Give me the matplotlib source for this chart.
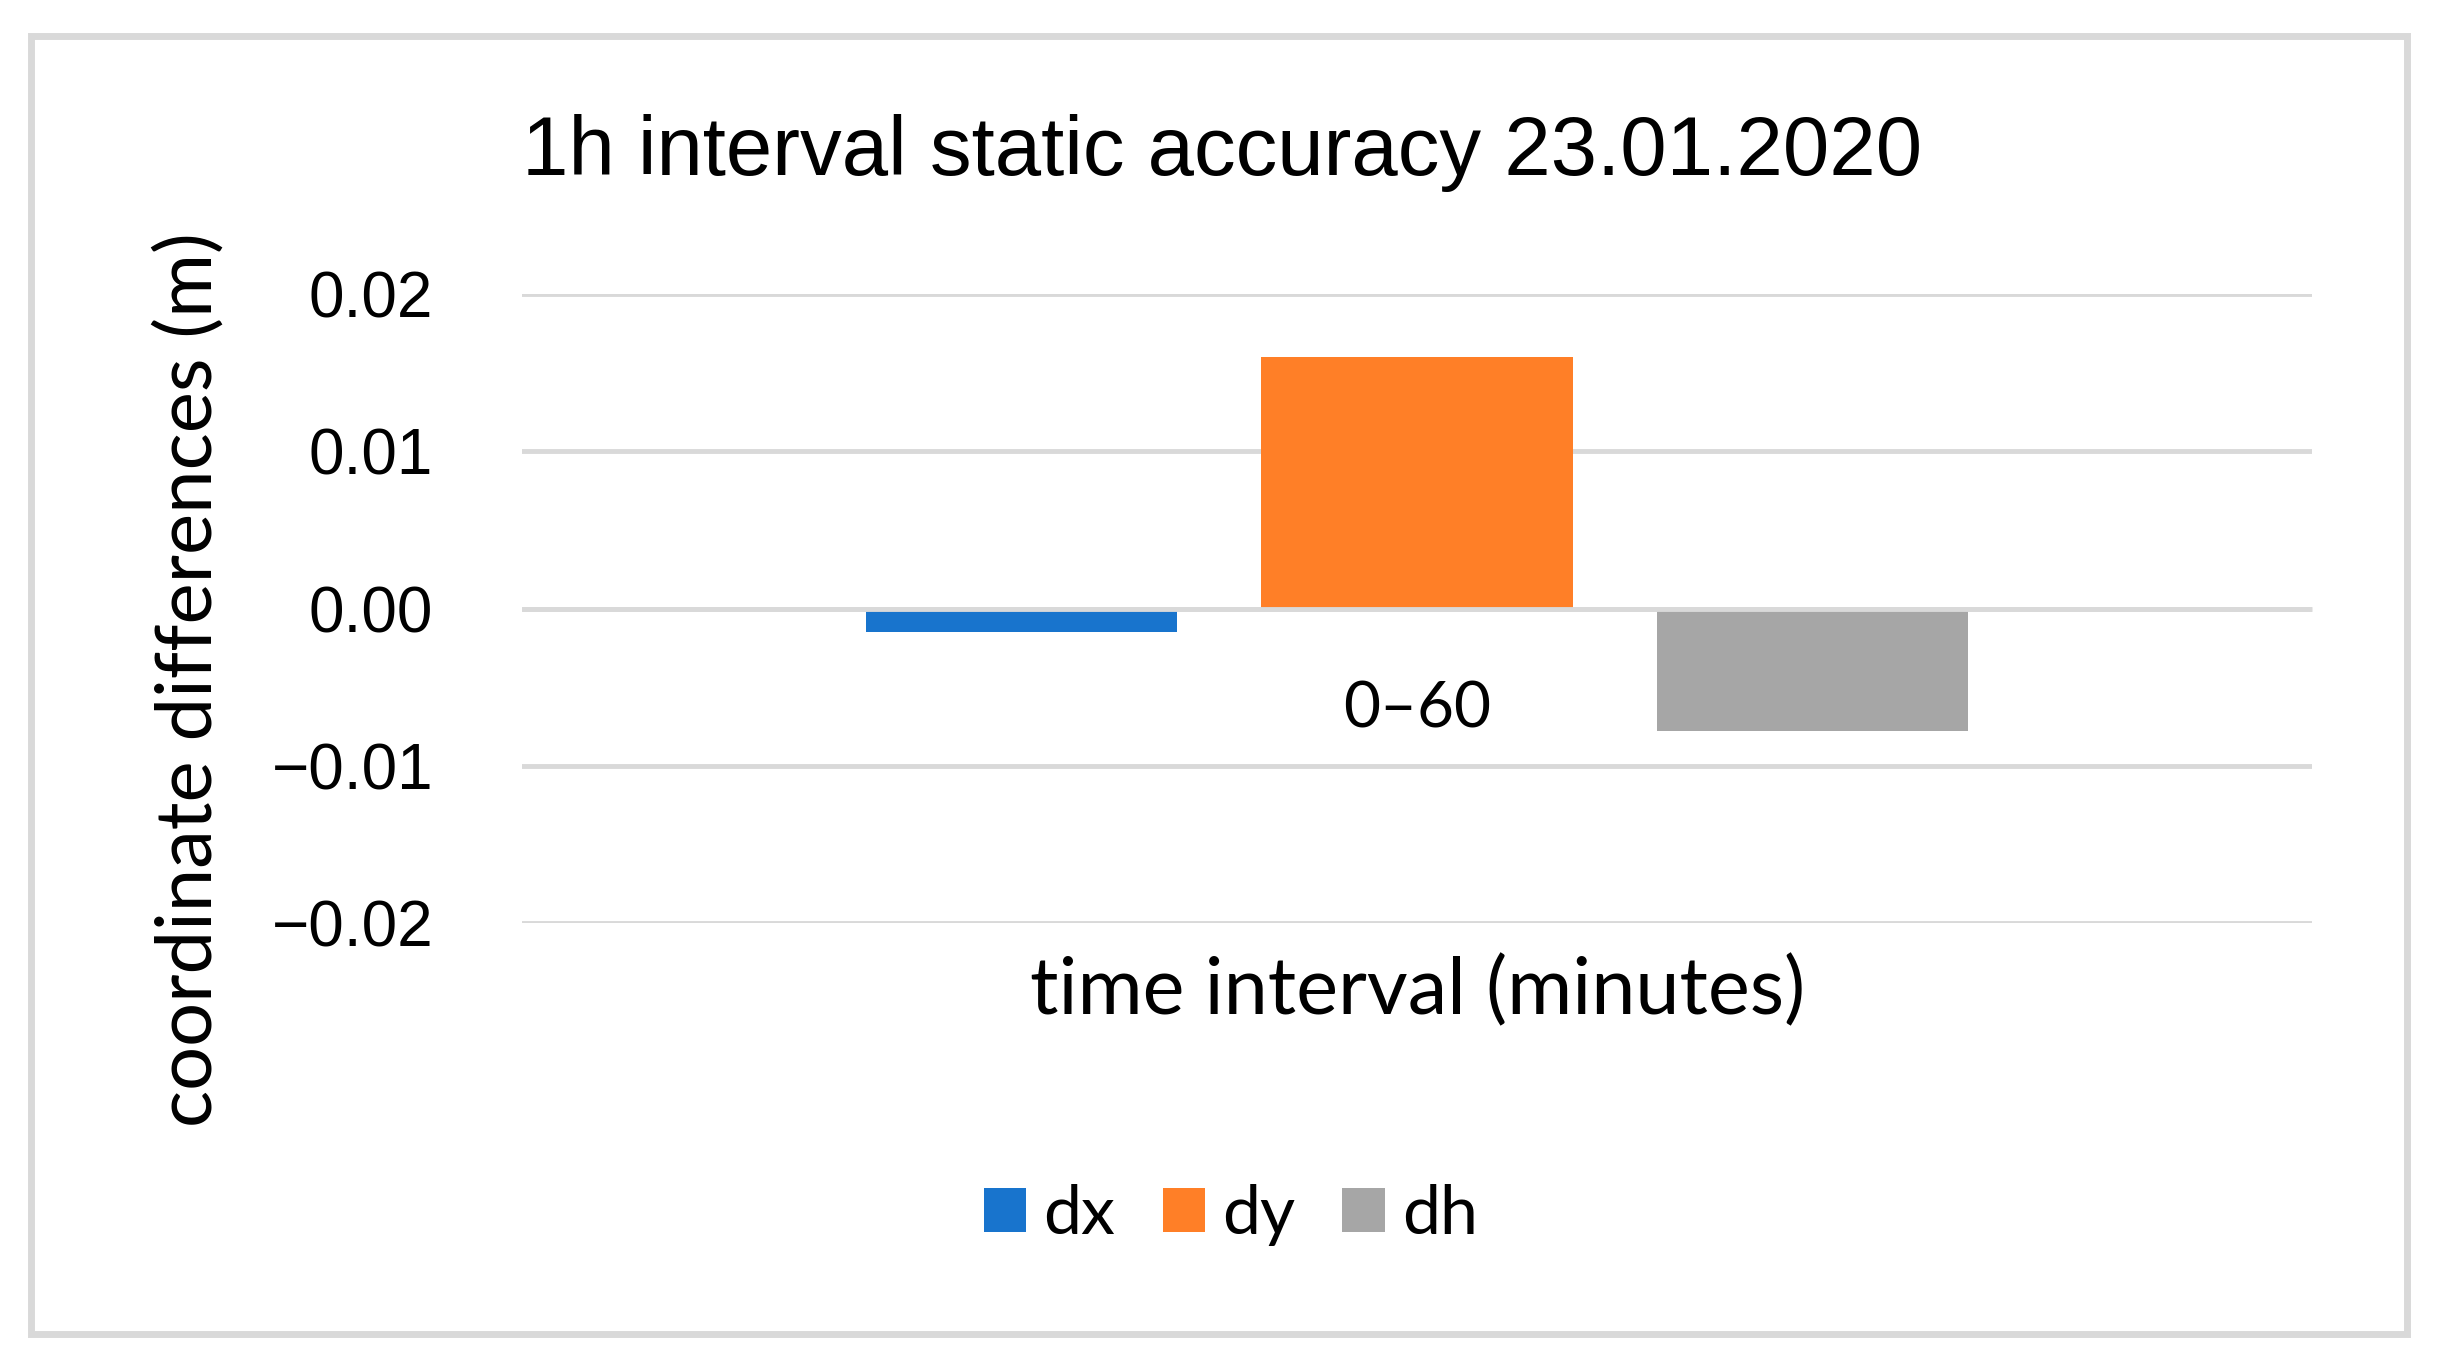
import matplotlib.pyplot as plt
from matplotlib.patches import Rectangle, Patch

# data
categories = ['0–60']
series = ['dx', 'dy', 'dh']
values = [-0.0015, 0.016, -0.0078]
colors = ['#1874CD', '#FF7F27', '#A6A6A6']
yticks = [-0.02, -0.01, 0.0, 0.01, 0.02]
ytick_labels = ['−0.02', '−0.01', '0.00', '0.01', '0.02']

sans = ['Liberation Sans', 'DejaVu Sans']
calib = ['Lato', 'DejaVu Sans']

fig = plt.figure(figsize=(24.42, 13.65), dpi=100)
ax = fig.add_axes([0.2138, 0.3238, 0.733, 0.4608])

bar_w = 0.174
step = 0.221
for i, (name, v, c) in enumerate(zip(series, values, colors)):
    ax.bar((i - 1) * step, v, width=bar_w, color=c, label=name, zorder=2)

ax.set_xlim(-0.5, 0.5)
ax.set_ylim(-0.02, 0.02)
ax.set_yticks(yticks)
ax.set_yticklabels(ytick_labels, fontfamily=sans, fontsize=46)
ax.tick_params(axis='y', length=0, pad=64)
ax.set_axisbelow(True)
ax.grid(axis='y', color='#D9D9D9', linewidth=3.5)
for s in ['left', 'right', 'top']:
    ax.spines[s].set_visible(False)
# category axis at zero, drawn over the bars
ax.spines['bottom'].set_position(('data', 0))
ax.spines['bottom'].set_color('#D9D9D9')
ax.spines['bottom'].set_linewidth(3.5)
ax.spines['bottom'].set_capstyle('butt')
ax.spines['bottom'].set_zorder(3)
ax.set_xticks([0])
ax.set_xticklabels(categories, fontfamily=calib, fontsize=46)
ax.tick_params(axis='x', length=0, pad=52)

ax.set_xlabel('time interval (minutes)', fontfamily=calib, fontsize=57, va='center')
ax.xaxis.set_label_coords(0.5, -0.1097)

fig.text(0.0778, 0.5018, 'coordinate differences (m)', rotation=90,
         ha='center', va='center', fontfamily=calib, fontsize=56)
fig.text(0.2138, 0.888, '1h interval static accuracy 23.01.2020',
         ha='left', va='center', fontfamily=sans, fontsize=60)

handles = [Patch(facecolor=c, label=n) for n, c in zip(series, colors)]
fig.legend(handles=handles, loc='center', bbox_to_anchor=(0.504, 0.110), ncol=3,
           frameon=False, prop={'family': calib, 'size': 49},
           handlelength=0.62, handleheight=0.62, handletextpad=0.25, columnspacing=0.7)

fig.patches.append(Rectangle((0.0128, 0.0225), 0.9728, 0.9511, transform=fig.transFigure,
                             fill=False, edgecolor='#D9D9D9', linewidth=5))

fig.savefig('out.png', dpi=100)
